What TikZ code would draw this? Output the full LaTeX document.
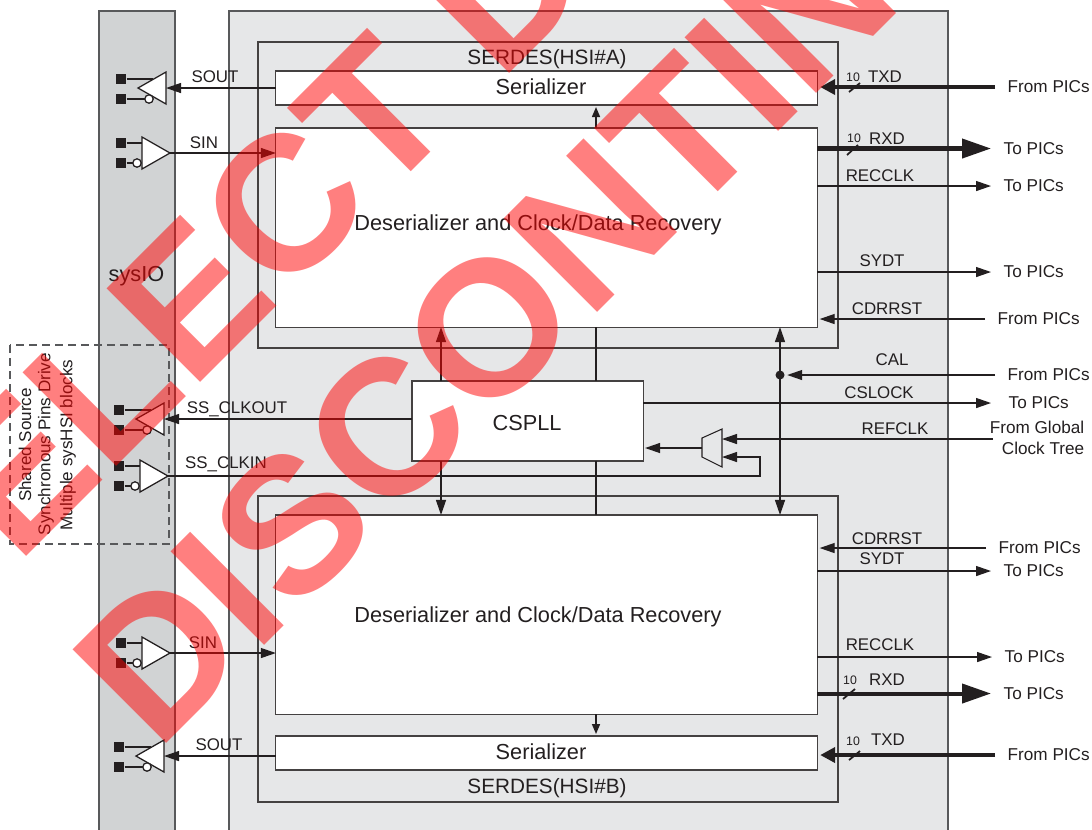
\documentclass[tikz,border=0pt]{standalone}
\usepackage{fontspec}
\setmainfont{Liberation Sans}
\usetikzlibrary{arrows.meta}
\definecolor{ink}{HTML}{231F20}
\definecolor{edge}{HTML}{58595B}
\definecolor{bandgray}{HTML}{D1D3D4}
\definecolor{panelgray}{HTML}{E6E7E8}
\tikzset{
    hair/.style = {draw = ink, line width = 0.36pt},
    blockbox/.style = {draw = ink!85, line width = 0.33pt, fill = white, inner sep = 0, outer sep = 0},
    panelbox/.style = {draw = edge, line width = 0.45pt, fill = panelgray},
    sig/.style = {hair, -{Triangle[length = 0.15cm, width = 0.10cm]}},
    sigin/.style = {sig, shorten > = 0.025cm},
    both/.style = {hair, {Triangle[length = 0.15cm, width = 0.10cm]}-{Triangle[length = 0.15cm, width = 0.10cm]}},
    tiny/.style = {hair, line width = 0.45pt, -{Triangle[length = 0.10cm, width = 0.08cm]}, shorten > = 0.02cm},
    busin/.style = {draw = ink, line width = 1.15pt, -{Triangle[length = 0.15cm, width = 0.15cm]}, shorten > = 0.03cm},
    busout/.style = {draw = ink, line width = 1.15pt, -{Triangle[length = 0.29cm, width = 0.19cm]}},
    iopad/.style = {fill = ink, inner sep = 0, minimum size = 0.10cm},
    bigtext/.style = {font = \fontsize{6.18}{7.5}\selectfont, text = ink, inner sep = 0},
    sigtext/.style = {font = \fontsize{4.8}{6}\selectfont, text = ink, inner sep = 0},
    smalltext/.style = {font = \fontsize{3.5}{4}\selectfont, text = ink, inner sep = 0},
    pintext/.style = {sigtext, font = \fontsize{4.88}{6}\selectfont, anchor = west, inner sep = 0.12cm},
    sidetext/.style = {font = \fontsize{4.85}{6}\selectfont, text = ink, inner sep = 0, rotate = 90},
    markup/.style = {anchor = base west, rotate = 45, inner sep = 0, red, opacity = 0.5, font = \fontsize{54.7}{54}\selectfont\bfseries},
    pics/inbuf/.style = {code = {
        \node[iopad] (-hi) at (-49,-10) {};
        \node[iopad] (-lo) at (-49,10) {};
        \draw[hair] (-hi) -- (-28,-10);
        \draw[hair] (-lo) -- (-33,10);
        \draw[hair, fill = white] (-28,-16) -- (0,0) -- (-28,16) -- cycle;
        \draw[hair, fill = white] (-33,10) circle[radius = 4.2];
        \coordinate (-out) at (0,0);
    }},
    pics/outbuf/.style = {code = {
        \node[iopad] (-hi) at (-45,-9) {};
        \node[iopad] (-lo) at (-45,11) {};
        \draw[hair] (-hi) -- (-13,-9);
        \draw[hair] (-lo) -- (-17,11);
        \draw[hair, fill = white] (0,-16) -- (-28,0) -- (0,16) -- cycle;
        \draw[hair, fill = white] (-17,11) circle[radius = 4.2];
        \coordinate (-out) at (0,0);
    }}
}
\begin{document}
\begin{tikzpicture}[x = 0.01cm, y = -0.01cm]
    \path[use as bounding box, clip] (0,0) rectangle (1092,829);
    \draw[panelbox, fill = bandgray] (99,11) rectangle (175,840);
    \draw[panelbox] (229,11) rectangle (948,840);
    \draw[panelbox, draw = ink!85, line width = 0.36pt] (258,42) rectangle (838,348);
    \draw[panelbox, draw = ink!85, line width = 0.36pt] (258,496) rectangle (838,802);
    \node[bigtext] (serdesa) at (547,59) {\fontsize{5.9}{7}\selectfont SERDES(HSI\#A)};
    \node[bigtext] (serdesb) at (547,788) {\fontsize{5.9}{7}\selectfont SERDES(HSI\#B)};
    \node[bigtext] (sysio) at (136.5,276) {sysIO};

    \node[blockbox, minimum width = 5.41cm, minimum height = 0.34cm] (sera) at (546.5,88) {};
    \node[blockbox, minimum width = 5.41cm, minimum height = 1.99cm] (desa) at (546.5,227.5) {};
    \node[blockbox, minimum width = 2.31cm, minimum height = 0.80cm] (cspll) at (527.5,421) {};
    \node[blockbox, minimum width = 5.41cm, minimum height = 1.99cm] (desb) at (546.5,614.5) {};
    \node[blockbox, minimum width = 5.41cm, minimum height = 0.34cm] (serb) at (546.5,753) {};
    \node[bigtext] (seratext) at (541,87) {Serializer};
    \node[bigtext] (desatext) at (538,225) {Deserializer and Clock/Data Recovery};
    \node[bigtext] (cspltext) at (527,423) {CSPLL};
    \node[bigtext] (desbtext) at (538,617) {Deserializer and Clock/Data Recovery};
    \node[bigtext] (serbtext) at (541,752) {Serializer};

    \pic (souta) at (166,88) {outbuf};
    \pic (sina) at (170,153) {inbuf};
    \pic (ssout) at (164,419) {outbuf};
    \pic (ssin) at (168,476) {inbuf};
    \pic (sinb) at (170,653) {inbuf};
    \pic (soutb) at (164,756) {outbuf};

    \draw[edge, line width = 0.38pt, dash pattern = on 0.08cm off 0.05cm] (10,345) rectangle (169,544);
    \node[sidetext] (sharetext) at (25,445) {Shared Source};
    \node[sidetext] (synctext) at (46,444) {Synchronous Pins Drive};
    \node[sidetext] (multitext) at (68,445) {Multiple sysHSI blocks};

    \coordinate (pllx) at (441,420);
    \coordinate (busx) at (596,420);
    \node[circle, fill = ink, inner sep = 0, minimum size = 0.09cm] (caldot) at (780,375) {};
    \draw[both] (caldot |- desa.south) -- (caldot |- desb.north);
    \draw[sig] (pllx |- cspll.north) -- (pllx |- desa.south);
    \draw[sig] (pllx |- cspll.south) -- (pllx |- desb.north);
    \draw[hair] (busx |- desa.south) -- (busx |- cspll.north);
    \draw[hair] (busx |- cspll.south) -- (busx |- desb.north);
    \draw[tiny] (busx |- desa.north) -- (busx |- sera.south);
    \draw[tiny] (busx |- desb.south) -- (busx |- serb.north);

    \draw[sig] (sera.west) -- (souta-out);
    \draw[sig] (sina-out) -- (sina-out -| desa.west);
    \draw[sig] (ssout-out -| cspll.west) -- (ssout-out);
    \draw[sig] (sinb-out) -- (sinb-out -| desb.west);
    \draw[sig] (soutb-out -| serb.west) -- (soutb-out);

    \node[pintext] (txdapin) at (995,87) {From PICs};
    \node[pintext] (rxdapin) at (991,148.5) {To PICs};
    \node[pintext] (recapin) at (991,186) {To PICs};
    \node[pintext] (sydapin) at (991,272) {To PICs};
    \node[pintext] (cdrapin) at (985,319) {From PICs};
    \node[pintext] (calpin) at (995,375) {From PICs};
    \node[pintext, inner sep = 0.17cm] (lockpin) at (991,403) {To PICs};
    \node[sigtext, font = \fontsize{4.88}{6}\selectfont, align = right] (refpin) at (1037,438) {From Global\\Clock Tree};
    \coordinate (refend) at (993,439);
    \node[pintext] (cdrbpin) at (986,548) {From PICs};
    \node[pintext] (sydbpin) at (991,571) {To PICs};
    \node[pintext] (recbpin) at (992,657) {To PICs};
    \node[pintext] (rxdbpin) at (991,693.5) {To PICs};
    \node[pintext] (txdbpin) at (995,755) {From PICs};

    \draw[busin] (txdapin.west) -- (txdapin.west -| sera.east);
    \draw[busout] (rxdapin.west -| desa.east) -- (rxdapin.west);
    \draw[sig] (recapin.west -| desa.east) -- (recapin.west);
    \draw[sig] (sydapin.west -| desa.east) -- (sydapin.west);
    \draw[sigin] (cdrapin.west) -- (cdrapin.west -| desa.east);
    \draw[sig, shorten > = 0.02cm] (calpin.west) -- (caldot);
    \draw[sig] (cspll.east |- lockpin.west) -- (lockpin.west);
    \draw[sigin] (cdrbpin.west) -- (cdrbpin.west -| desb.east);
    \draw[sig] (sydbpin.west -| desb.east) -- (sydbpin.west);
    \draw[sig] (recbpin.west -| desb.east) -- (recbpin.west);
    \draw[busout] (rxdbpin.west -| desb.east) -- (rxdbpin.west);
    \draw[busin] (txdbpin.west) -- (txdbpin.west -| serb.east);

    \draw[hair, line width = 0.3pt, fill = panelgray] (702,438) -- (722,429) -- (722,467) -- (702,457) -- cycle;
    \coordinate (muxref) at (722,439);
    \coordinate (muxfb) at (722,457);
    \coordinate (muxout) at (702,448);
    \draw[sig] (refend) -- (muxref);
    \draw[sig] (ssin-out) -- (760,476) -- (760,457) -- (muxfb);
    \draw[sig, shorten > = 0.02cm] (muxout) -- (muxout -| cspll.east);

    \draw[hair, line width = 0.5pt] (849,92) -- (860,83);
    \draw[hair, line width = 0.5pt] (847,155) -- (858,145);
    \draw[hair, line width = 0.5pt] (843,699) -- (855,689);
    \draw[hair, line width = 0.5pt] (849,760) -- (860,751);

    \node[sigtext] (soutatext) at (215,77) {SOUT};
    \node[sigtext] (sinatext) at (204,143) {SIN};
    \node[sigtext] (ssouttext) at (237,409) {SS\_CLKOUT};
    \node[sigtext] (ssintext) at (226,464) {SS\_CLKIN};
    \node[sigtext] (sinbtext) at (203,643) {SIN};
    \node[sigtext] (soutbtext) at (219,745) {SOUT};
    \node[sigtext] (txdatext) at (885,77) {TXD};
    \node[sigtext] (rxdatext) at (887,139) {RXD};
    \node[sigtext] (recatext) at (880,176) {RECCLK};
    \node[sigtext] (sydatext) at (882,261) {SYDT};
    \node[sigtext] (cdratext) at (887,309) {CDRRST};
    \node[sigtext] (caltext) at (892,360) {CAL};
    \node[sigtext] (locktext) at (879,393) {CSLOCK};
    \node[sigtext] (reftext) at (895,429) {REFCLK};
    \node[sigtext] (cdrbtext) at (887,539) {CDRRST};
    \node[sigtext] (sydbtext) at (882,559) {SYDT};
    \node[sigtext] (recbtext) at (880,645) {RECCLK};
    \node[sigtext] (rxdbtext) at (887,680) {RXD};
    \node[sigtext] (txdbtext) at (888,740) {TXD};
    \node[smalltext] (tena) at (853,77) {10};
    \node[smalltext] (tenb) at (854,138) {10};
    \node[smalltext] (tenc) at (850,680) {10};
    \node[smalltext] (tend) at (853,741) {10};

    \node[markup] (selmark) at (-74,657) {SELECT DEVICES};
    \node[markup] (dismark) at (157,753) {DISCONTINUED};
\end{tikzpicture}
\end{document}
